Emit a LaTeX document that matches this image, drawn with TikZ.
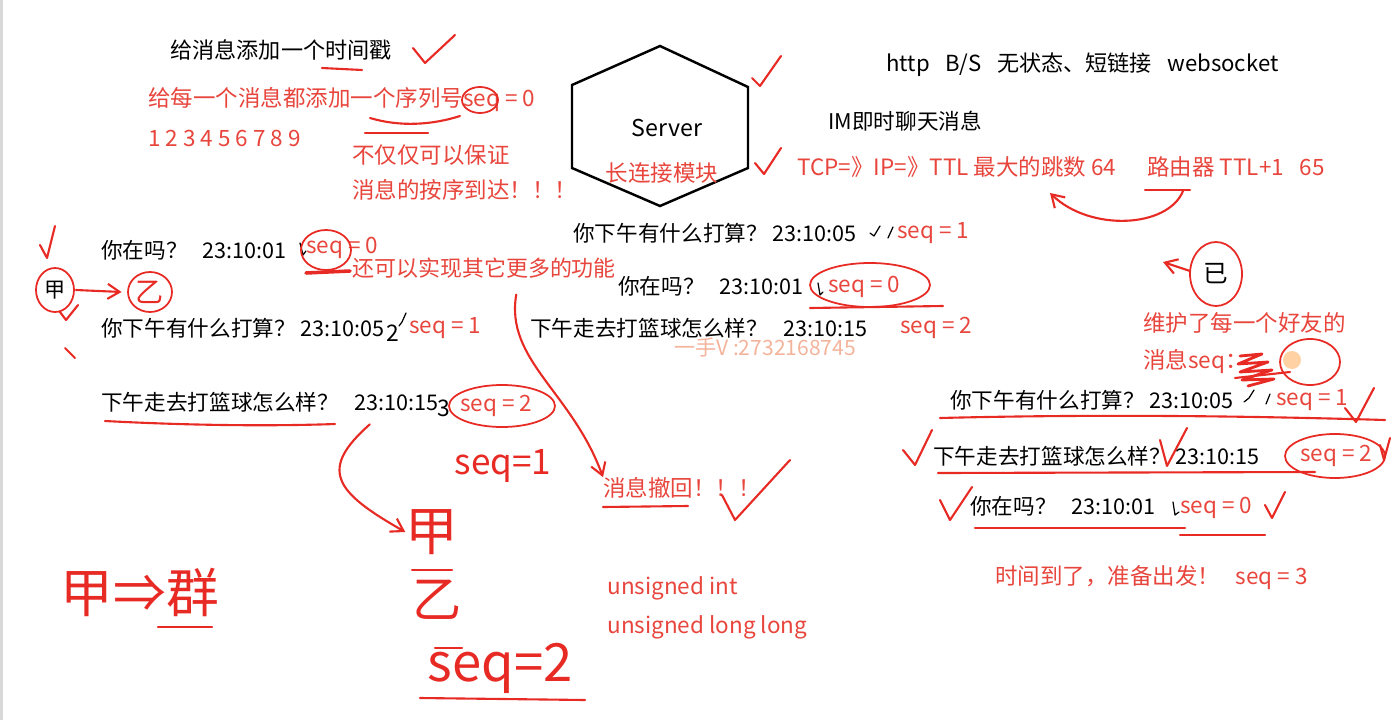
\documentclass[tikz,border=0pt]{standalone}
\usepackage{fontspec}
\setmainfont{Noto Sans CJK SC}
\usetikzlibrary{arrows.meta,positioning,calc}
\definecolor{inkred}{HTML}{E82A24}
\definecolor{txtred}{HTML}{E8453C}
\definecolor{wmark}{HTML}{F4B49C}
\tikzset{
  msg/.style={anchor=west,inner sep=0pt,font=\fontsize{12.3}{14}\selectfont,text=black},
  note/.style={msg,text=txtred,font=\fontsize{12.8}{14}\selectfont},
  hand/.style={inner sep=0pt,text=inkred,font=\fontsize{30}{32}\selectfont},
  ink/.style={draw=inkred,line width=1.2pt,line cap=round,line join=round},
  inkar/.style={ink,-{Straight Barb[length=2.4mm,width=3mm]}},
  ring/.style={ink,line width=1pt},
  pen/.style={draw=black,line width=0.7pt,line cap=round,line join=round}
}
\newcommand{\gap}{\hspace{0.7em}}

\begin{document}
\begin{tikzpicture}[x=0.02cm,y=-0.02cm]
  \useasboundingbox[fill=white] (0,0) rectangle (1396,720);
  \draw[black!15,line width=2pt] (1,0) -- (1,720);

  % top notes
  \node[msg,font=\fontsize{12.6}{14}\selectfont] (stamp) at (170,50) {给消息添加一个时间戳};
  \node[note] (seqno) at (148,100) {给每一个消息都添加一个序列号seq = 0};
  \node[note] (digits) at (148,138) {1 2 3 4 5 6 7 8 9};
  \node[note] (keep1) at (352,155) {不仅仅可以保证};
  \node[note] (keep2) at (352,190) {消息的按序到达！！！};
  \draw[ink] (322,68) -- (362,70);
  \draw[ink] (413,48) -- (425,63) -- (455,35);
  \draw[ink] (370,118) .. controls (400,127) and (432,125) .. (460,116);
  \draw[ink] (365,133) -- (428,133);
  \draw[ring] (480,100) ellipse (18 and 13);

  % server
  \draw[line width=1.4pt,line join=miter] (660,46) -- (748,87) -- (748,168) -- (660,206)
    -- (572,168) -- (572,85) -- cycle;
  \node[inner sep=0pt,font=\fontsize{13.2}{15}\selectfont] (server) at (667,128) {Server};
  \node[inner sep=0pt,text=txtred,font=\fontsize{12.8}{14}\selectfont] (longconn) at (662,173) {长连接模块};
  \draw[ink] (752,78) -- (760,86) -- (781,56);
  \draw[ink] (755,163) -- (764,174) -- (781,148);

  \node[msg,font=\fontsize{12.6}{14}\selectfont] (http) at (886,65) {http\gap B/S\gap 无状态、短链接\gap websocket};
  \node[msg] (im) at (828,121) {IM即时聊天消息};
  \node[note] (tcp) at (797,167) {TCP=》IP=》TTL 最大的跳数 64};
  \node[note] (router) at (1147,167) {路由器 TTL+1\gap 65};
  \coordinate (hops) at (1050,193);
  \draw[ink] (1145,190) -- (1190,190);
  \draw[inkar] (1183,191) .. controls (1168,228) and (1090,232) .. (hops);

  % left chat
  \node[msg] (l1) at (101,250) {你在吗？\gap 23:10:01};
  \node[note] (l1seq) at (306,248) {seq = 0};
  \node[note,font=\fontsize{12.5}{14}\selectfont] (more) at (352,268) {还可以实现其它更多的功能};
  \node[msg] (l2) at (101,328) {你下午有什么打算？ 23:10:05};
  \node[note] (l2seq) at (409,328) {seq = 1};
  \node[msg] (l3) at (101,402) {下午走去打篮球怎么样？\gap 23:10:15};
  \node[note] (l3seq) at (460,406) {seq = 2};
  \node[inner sep=0pt,font=\fontsize{13}{14}\selectfont] (two) at (393,333) {2};
  \node[inner sep=0pt,font=\fontsize{13}{14}\selectfont] (three) at (444,408) {3};
  \draw[pen] (300,243) -- (303,255) -- (306,251);
  \draw[pen] (399,326) -- (402,322) -- (406,313);
  \draw[ring] (326,250) ellipse (25 and 20);
  \draw[ink,line width=2pt] (306,273) -- (350,271);
  \draw[ring] (502,406) ellipse (53 and 21);
  \draw[ink] (40,245) -- (47,258) -- (55,226);

  \node[inner sep=0pt,font=\fontsize{12}{14}\selectfont] (jia) at (55,290) {甲};
  \node[inner sep=0pt,text=inkred,font=\fontsize{16}{18}\selectfont] (yi) at (150,292) {乙};
  \draw[ring] (jia) ellipse (19 and 22);
  \draw[ring] (yi) ellipse (22 and 20);
  \draw[inkar] (jia.east) ++(10,0) -- ($(yi.west)+(-14,0)$);
  \draw[ink] (60,312) -- (66,320) -- (78,305);
  \draw[ink] (65,348) -- (75,358);

  \draw[ink] (105,421) .. controls (200,426) and (280,426) .. (335,424);
  \node[hand] (hjia) at (432,532) {甲};
  \node[hand,font=\fontsize{28}{30}\selectfont] (hyi) at (437,600) {乙};
  \node[hand] (hseq2) at (500,668) {seq=2};
  \node[hand,font=\fontsize{20}{22}\selectfont] (hseq1) at (503,466) {seq=1};
  \draw[inkar] (l3.south) ++(100,12) .. controls (318,470) and (335,492) .. (hjia.west);
  \draw[ink] (412,570) -- (452,570);
  \draw[ink] (435,648) -- (462,648);
  \draw[ink] (420,698) -- (585,700);

  \node[hand] (group) at (140,592) {甲⇒群};
  \draw[ink] (158,627) -- (212,627);

  % middle chat
  \node[msg] (m1) at (573,233) {你下午有什么打算？ 23:10:05};
  \node[note] (m1seq) at (897,233) {seq = 1};
  \draw[pen] (870,233) -- (874,236) -- (880,226);
  \draw[pen] (888,238) -- (893,227);
  \node[msg] (m2) at (618,286) {你在吗？\gap 23:10:01};
  \node[note] (m2seq) at (828,287) {seq = 0};
  \draw[pen] (818,283) -- (820,295) -- (823,292);
  \draw[ring] (870,285) ellipse (60 and 22);
  \draw[ink] (810,308) -- (943,306);
  \node[msg] (m3) at (530,328) {下午走去打篮球怎么样？\gap 23:10:15};
  \node[note] (m3seq) at (900,328) {seq = 2};
  \node[inner sep=0pt,text=wmark,font=\fontsize{12}{14}\selectfont] (wm) at (765,347) {一手V :2732168745};

  \node[note] (recall) at (603,488) {消息撤回！！！};
  \draw[inkar] (more.south east) ++(-100,16) .. controls (505,360) and (572,392) .. (recall.north west);
  \draw[ink] (603,507) -- (688,506);
  \draw[ink] (722,495) -- (735,520) -- (790,460);
  \node[note] (uint) at (607,588) {unsigned int};
  \node[note] (ulong) at (607,627) {unsigned long long};

  % right chat
  \node[inner sep=0pt,font=\fontsize{14}{16}\selectfont] (ji) at (1216,274) {已};
  \draw[ring] (ji) ellipse (26 and 32);
  \coordinate (jiarr) at (1163,262);
  \draw[inkar] (1190,271) -- (jiarr);
  \node[note] (friend1) at (1143,323) {维护了每一个好友的};
  \node[note] (friend2) at (1143,362) {消息seq：};
  \draw[ink,line width=1.6pt] (1240,356) -- (1262,354) -- (1238,364) -- (1268,362) -- (1240,372)
    -- (1272,370) -- (1242,380) -- (1274,379) -- (1248,386);
  \draw[ink] (1235,378) -- (1290,372);
  \draw[ring] (1310,362) ellipse (30 and 23);
  \fill[orange!45,opacity=0.8] (1292,360) circle (9);

  \node[msg] (r1) at (950,400) {你下午有什么打算？ 23:10:05};
  \node[note] (r1seq) at (1276,400) {seq = 1};
  \draw[pen] (1244,402) -- (1249,398) -- (1254,390);
  \draw[pen] (1266,404) -- (1270,394);
  \draw[ink] (940,418) .. controls (1100,414) and (1250,416) .. (1385,420);
  \draw[ink] (1345,408) -- (1356,422) -- (1374,388);

  \node[msg] (r2) at (933,456) {下午走去打篮球怎么样？ 23:10:15};
  \node[note] (r2seq) at (1300,456) {seq = 2};
  \draw[ink] (903,450) -- (915,465) -- (932,430);
  \draw[ink] (1160,440) -- (1167,466) -- (1187,428);
  \draw[ring] (1335,456) ellipse (50 and 22);
  \draw[ink] (1380,445) -- (1384,460) -- (1390,438);
  \draw[ink] (938,473) -- (1315,472);

  \node[msg] (r3) at (970,506) {你在吗？\gap 23:10:01};
  \node[note] (r3seq) at (1180,508) {seq = 0};
  \draw[pen] (1173,502) -- (1175,515) -- (1179,512);
  \draw[ink] (940,500) -- (950,520) -- (972,487);
  \draw[ink] (1265,505) -- (1272,518) -- (1285,492);
  \draw[ink] (975,528) -- (1185,528);
  \draw[ink] (1180,535) -- (1265,535);

  \node[note] (depart) at (995,578) {时间到了，准备出发！\gap seq = 3};
\end{tikzpicture}
\end{document}
